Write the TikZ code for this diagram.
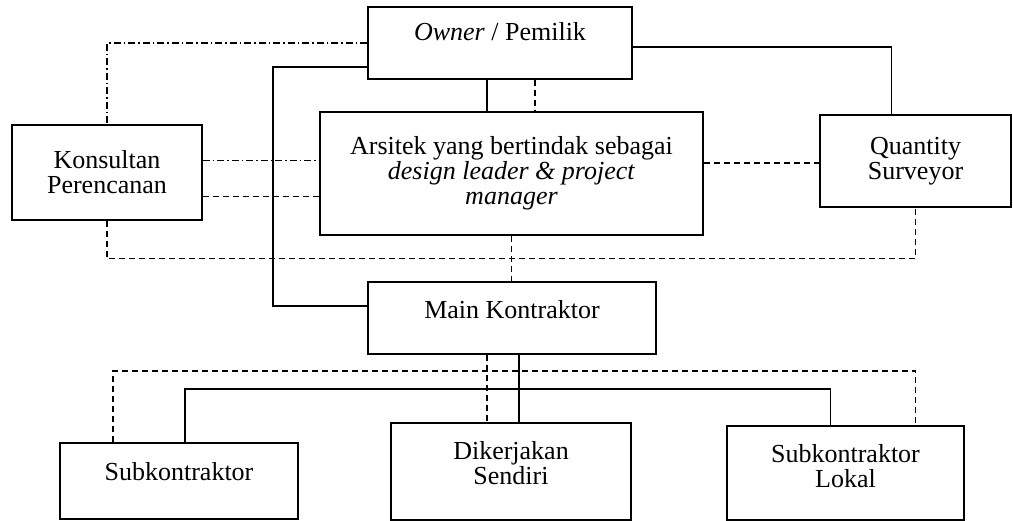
\documentclass[tikz,border=0pt]{standalone}
\usepackage{fontspec}
\setmainfont{Liberation Serif}
\usepackage{tikz}
\usetikzlibrary{positioning, calc}

\begin{document}
\begin{tikzpicture}[x=1pt, y=-1pt,
  org/.style={draw, line width=1.3pt, align=center, inner sep=0pt,
    font=\fontsize{26}{25}\selectfont},
  link/.style={line width=1.3pt},
  dashlink/.style={link, dash pattern=on 6pt off 4pt},
  dotlink/.style={link, dash pattern=on 7pt off 3pt on 1.5pt off 3pt}
]
\useasboundingbox (0,0) rectangle (1013,521);
% --- Top level ---
\node[org, minimum width=264pt, minimum height=72pt, text height=17pt, text depth=21pt]
  (owner) at (500,43) {\textit{Owner} / Pemilik};
\node[org, minimum width=383pt, minimum height=123pt]
  (arsitek) at (511.5,173.5) {Arsitek yang bertindak sebagai\\\textit{design leader \& project}\\\textit{manager}};
\node[org, minimum width=190pt, minimum height=95pt]
  (konsultan) at (107,172.5) {Konsultan\\Perencanan};
\node[org, minimum width=191pt, minimum height=92pt]
  (qs) at (915.5,161) {Quantity\\Surveyor};
% --- Contractors ---
\node[org, minimum width=288pt, minimum height=72pt, text height=17pt, text depth=15pt]
  (main) at (512,318) {Main Kontraktor};
\node[org, minimum width=238pt, minimum height=76pt, text height=17pt, text depth=19pt]
  (sub) at (179,481) {Subkontraktor};
\node[org, minimum width=240pt, minimum height=97pt, text depth=17pt]
  (sendiri) at (511,471.5) {Dikerjakan\\Sendiri};
\node[org, minimum width=237pt, minimum height=94pt, text depth=14pt]
  (lokal) at (845.5,473) {Subkontraktor\\Lokal};

\coordinate (trunk) at (273,306);
\coordinate (busS) at (519,389);
\coordinate (busD) at (487,371);

% --- Owner links ---
\draw[link] ([xshift=-13pt]owner.south) -- ([xshift=-13pt]owner.south |- arsitek.north);
\draw[dashlink] ([xshift=35pt]owner.south) -- ([xshift=35pt]owner.south |- arsitek.north);
\draw[dotlink] (owner.west) -| (konsultan.north);
\draw[link] ([yshift=-4pt]owner.east) -| ([xshift=-24pt]qs.north);
\draw[link] ([yshift=-24pt]owner.west) -| (trunk) -- (trunk -| main.west);
% --- Consultants ---
\draw[dotlink] ([yshift=12pt]konsultan.east) -- ([yshift=12pt]konsultan.east -| arsitek.west);
\draw[dashlink] ([yshift=-24pt]konsultan.east) -- ([yshift=-24pt]konsultan.east -| arsitek.west);
\draw[dashlink] ([yshift=-2pt]qs.west -| arsitek.east) -- ([yshift=-2pt]qs.west);
\draw[dashlink] (konsultan.south) -- ++(0,38) -| (qs.south);
\draw[dashlink] (arsitek.south) -- (arsitek.south |- main.north);
% --- Main contractor to works ---
\draw[link] ([xshift=7pt]main.south) -- ([xshift=7pt]main.south |- sendiri.north);
\draw[link] ([xshift=6pt]sub.north) |- (busS) -| ([xshift=-15pt]lokal.north);
\draw[dashlink] ([xshift=-25pt]main.south) -- ([xshift=-25pt]main.south |- sendiri.north);
\draw[dashlink] ([xshift=-66pt]sub.north) |- (busD) -| ([xshift=70pt]lokal.north);
\end{tikzpicture}
\end{document}
